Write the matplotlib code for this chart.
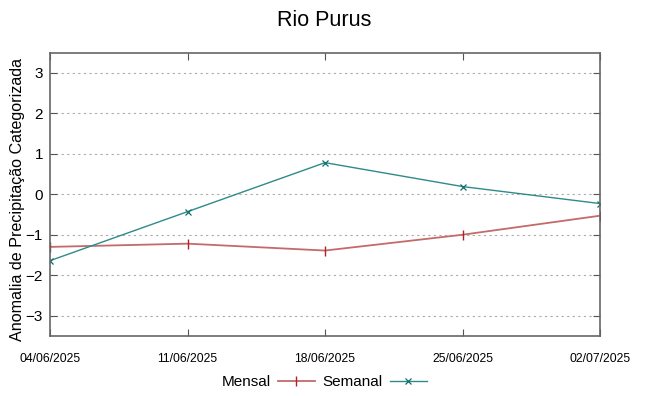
import numpy as np
import matplotlib.pyplot as plt

plt.rcParams["font.family"] = ["Liberation Sans", "DejaVu Sans"]

# dados
datas = ["04/06/2025", "11/06/2025", "18/06/2025", "25/06/2025", "02/07/2025"]
mensal = [-1.30, -1.22, -1.39, -1.00, -0.53]
semanal = [-1.64, -0.43, 0.78, 0.19, -0.23]
yticks = [-3, -2, -1, 0, 1, 2, 3]

x = np.arange(len(datas))

fig = plt.figure(figsize=(6.48, 3.96), dpi=100)
ax = fig.add_axes([50 / 648, 1 - 336 / 396, 550 / 648, 283.5 / 396])

ax.plot(x, mensal, color="#c46a6a", lw=1.3, marker="|", ms=7,
        mec="#b0202a", mew=1.0, label="Mensal")
ax.plot(x, semanal, color="#2f8a8a", lw=1.0, marker="x", ms=5,
        mec="#106e6e", mew=0.9, label="Semanal")

ax.set_xlim(0, len(datas) - 1)
ax.set_ylim(-3.5, 3.5)
ax.set_xticks(x)
ax.set_xticklabels(datas, fontsize=8.8)
ax.set_yticks(yticks)
ax.tick_params(axis="y", labelsize=11)
ax.tick_params(direction="in", length=5, color="#555555", top=True, right=True, pad=12)
ax.tick_params(axis="y", pad=5)
ax.grid(axis="y", linestyle=(0, (2, 3)), color="#aaaaaa", lw=0.8)
for s in ax.spines.values():
    s.set_color("#666666")
    s.set_linewidth(1.2)

ax.set_ylabel("Anomalia de Precipitação Categorizada", fontsize=11.6)
ax.yaxis.set_label_coords(-25 / 550, 0.48)
fig.suptitle("Rio Purus", fontsize=15.5, y=0.975)

fig.legend(loc="center", bbox_to_anchor=(0.5, 1 - 382 / 396), ncol=2, frameon=False,
           markerfirst=False, fontsize=11, handlelength=2.4, columnspacing=0.5,
           handletextpad=0.5)

fig.savefig("out.png", dpi=100)
